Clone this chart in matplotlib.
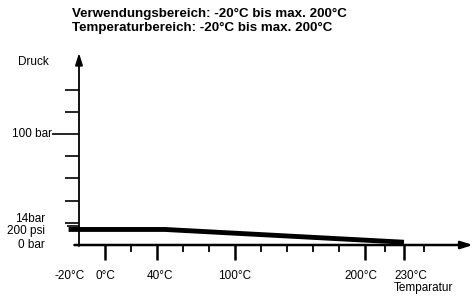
import matplotlib.pyplot as plt

# pressure curve (schematic)
temps = [-28, 46, 230]
druck = [14, 14, 2.5]

title_lines = ['Verwendungsbereich: -20°C bis max. 200°C',
               'Temperaturbereich: -20°C bis max. 200°C']

xtick_major = [0, 40, 100, 200, 230]
xtick_minor = [20, 60, 80, 120, 140, 160, 180, 215, 245]
xtick_labels = ['0°C', '40°C', '100°C', '200°C', '230°C']
label_nudge = [0, 2, 0, -3, 5]   # small text offsets so labels do not touch

ytick_vals = [20, 40, 60, 80, 120, 140]

plt.rcParams['font.family'] = ['Liberation Sans', 'DejaVu Sans']

fig = plt.figure(figsize=(4.73, 2.96), dpi=100)
ax = fig.add_axes([0, 0, 1, 1])
ax.axis('off')

# data -> pixel mapping: 1.3 px per degC, 1.11 px per bar
xpx, ypx = 1.3, 1.11
xmin = -20 - 79 / xpx
ymin = -51 / ypx
ax.set_xlim(xmin, xmin + 473 / xpx)
ax.set_ylim(ymin, ymin + 296 / ypx)

x0, y0 = -20, 0
ytop = y0 + 192 / ypx
xend = xmin + 473 / xpx
fs = 8.5

# axes with arrows
ax.annotate('', xy=(x0, ytop), xytext=(x0, y0 - 1), xycoords='data',
            arrowprops=dict(arrowstyle='-|>,head_length=0.7,head_width=0.22', color='black', lw=1.3,
                            shrinkA=0, shrinkB=0))
ax.annotate('', xy=(xend, y0), xytext=(x0 - 3.5, y0),
            arrowprops=dict(arrowstyle='-|>,head_length=0.7,head_width=0.22', color='black', lw=1.8,
                            shrinkA=0, shrinkB=0))

# curve
ax.plot(temps, druck, color='black', lw=3.5, solid_capstyle='butt')

# x ticks
ax.vlines(xtick_major, y0 - 13.5, y0, color='black', lw=1.8)
ax.vlines(xtick_minor, y0 - 6.5, y0 - 1, color='black', lw=1.3)
ax.text(x0 - 7, y0 - 28, '-20°C', ha='center', va='center', fontsize=fs)
for xv, lab, dx in zip(xtick_major, xtick_labels, label_nudge):
    ax.text(xv + dx, y0 - 28, lab, ha='center', va='center', fontsize=fs)
ax.text(xtick_major[-1] - 8, y0 - 38.5, 'Temparatur', ha='left', va='center', fontsize=fs)

# y ticks
ax.hlines(ytick_vals, x0 - 11, x0, color='black', lw=1.2)
ax.hlines([100], x0 - 21, x0, color='black', lw=1.2)
ax.hlines([17], x0 - 9, x0, color='black', lw=1.2)
ax.text(x0 - 21, 100, '100 bar', ha='right', va='center', fontsize=fs)
ax.text(x0 - 26, 18, '14bar\n200 psi', ha='right', va='center', fontsize=fs, linespacing=0.9)
ax.text(x0 - 26, 0, '0 bar', ha='right', va='center', fontsize=fs)
ax.text(x0 - 23, ytop - 8, 'Druck', ha='right', va='center', fontsize=fs)

# header
fig.text(72 / 473, 1 - 14 / 296, title_lines[0], ha='left', va='center', fontsize=9.6, fontweight='bold')
fig.text(72 / 473, 1 - 28 / 296, title_lines[1], ha='left', va='center', fontsize=9.6, fontweight='bold')

fig.savefig('out.png', dpi=100)
